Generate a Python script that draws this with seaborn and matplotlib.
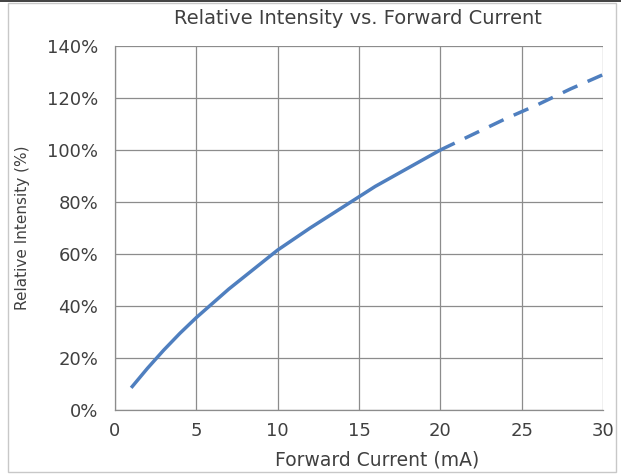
"""Relative intensity vs. forward current curve."""

import matplotlib
matplotlib.use("Agg")
import matplotlib.pyplot as plt
import seaborn as sns
import pandas as pd
from matplotlib.lines import Line2D
from matplotlib.patches import Rectangle
from matplotlib.ticker import PercentFormatter

# measured part of the curve (solid)
current_meas = [1, 2, 3, 4, 5, 6, 7, 8, 9, 10, 12, 14, 16, 18, 20]
intensity_meas = [8.5, 16, 23, 29.5, 35.5, 41, 46.5, 51.5, 56.5, 61.5, 70, 78, 86, 93, 100]

# extrapolated part (dashed)
current_ext = [20, 22, 24, 26, 28, 30]
intensity_ext = [100, 106, 112, 117.5, 123.5, 129]

x_ticks = [0, 5, 10, 15, 20, 25, 30]
y_ticks = [0, 20, 40, 60, 80, 100, 120, 140]

sns.set_style("white")
plt.rcParams["font.family"] = ["DejaVu Sans"]

line_color = "#4f7fbf"
grid_color = "#8c8c8c"
text_color = "#404040"

fig = plt.figure(figsize=(6.21, 4.75), dpi=100)
ax = fig.add_axes([0.185, 0.137, 0.786, 0.766])

meas = pd.DataFrame({"current": current_meas, "intensity": intensity_meas})
ext = pd.DataFrame({"current": current_ext, "intensity": intensity_ext})

sns.lineplot(data=meas, x="current", y="intensity", ax=ax,
             color=line_color, lw=2.5, solid_capstyle="butt")
sns.lineplot(data=ext, x="current", y="intensity", ax=ax,
             color=line_color, lw=2.5, linestyle=(0, (4.6, 3.2)))

ax.set_xlim(0, 30)
ax.set_ylim(0, 140)
ax.set_xticks(x_ticks)
ax.set_yticks(y_ticks)
ax.yaxis.set_major_formatter(PercentFormatter(decimals=0))

ax.grid(True, color=grid_color, lw=0.9)
ax.set_axisbelow(True)
for side in ["top", "right"]:
    ax.spines[side].set_visible(False)
for side in ["left", "bottom"]:
    ax.spines[side].set_color(grid_color)
    ax.spines[side].set_linewidth(0.9)

ax.tick_params(axis="both", which="major", labelsize=13, labelcolor=text_color,
               color=grid_color, width=0.9, direction="out")
ax.tick_params(axis="y", length=5, pad=7)
ax.tick_params(axis="x", length=3.5, pad=5)

ax.set_xlabel("Forward Current (mA)", fontsize=13.5, color=text_color, va="center")
ax.xaxis.set_label_coords(0.537, -0.137)
ax.set_ylabel("Relative Intensity (%)", fontsize=11, color=text_color, va="center")
ax.yaxis.set_label_coords(-0.19, 0.5)
fig.text(0.577, 0.962, "Relative Intensity vs. Forward Current", ha="center",
         va="center", fontsize=14, color=text_color)

# outer frame like the original screenshot
fig.patches.append(Rectangle((8 / 621, 3 / 475), 608 / 621, 469 / 475,
                             transform=fig.transFigure, fill=False,
                             edgecolor="#c8c8c8", lw=1.0))
fig.lines.append(Line2D([0, 1], [0.997, 0.997], transform=fig.transFigure,
                        color="#202020", lw=1.2))

plt.savefig("out.png", dpi=100)
plt.close()
